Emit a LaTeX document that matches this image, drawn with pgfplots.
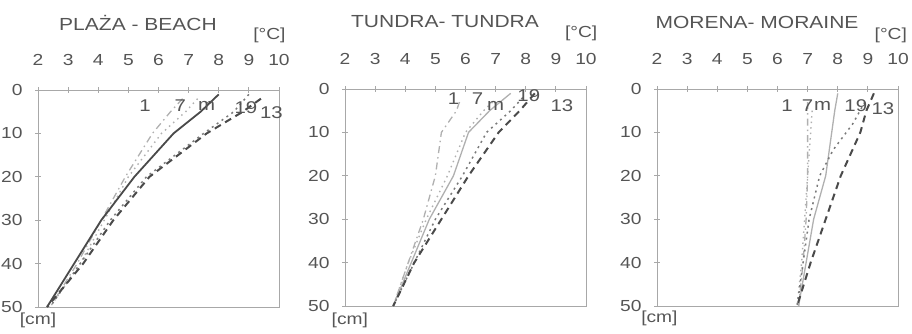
\documentclass[border=0pt]{standalone}
\usepackage{pgfplots}
\pgfplotsset{compat=1.18}
\usepackage{fontspec}
\setmainfont{Liberation Sans}[FakeStretch=1.2]
\definecolor{txt}{HTML}{555555}
\definecolor{ax}{HTML}{A8A8A8}
\definecolor{dk}{HTML}{4A4A4A}
\definecolor{md}{HTML}{7A7A7A}
\definecolor{lt}{HTML}{B0B0B0}
\tikzset{
  s1/.style={lt, line width=1.3pt, dash pattern=on 7pt off 4pt on 1.5pt off 4pt},
  s7/.style={lt, line width=1.4pt, dash pattern=on 1.5pt off 4pt},
  s19/.style={md, line width=1.5pt, dash pattern=on 2pt off 4pt},
  s13/.style={dk, line width=2pt, dash pattern=on 7pt off 5pt},
  lab/.style={font=\fontsize{17}{19}\selectfont, text=txt},
  unit/.style={font=\fontsize{16}{18}\selectfont, text=txt},
}
\pgfplotsset{
  panel/.style={
    scale only axis, width=241pt, height=217pt,
    xmin=2, xmax=10, ymin=0, ymax=50, y dir=reverse,
    xtick={2,3,...,10}, ytick={0,10,...,50},
    xtick pos=upper, xticklabel pos=upper, ytick pos=left,
    tick align=center, major tick length=6pt,
    axis line style={ax, line width=0.8pt},
    tick style={ax, line width=0.8pt},
    tick label style={font=\fontsize{16}{18}\selectfont, text=txt},
    xticklabel style={yshift=18pt},
    yticklabel style={xshift=-9pt},
    /pgf/number format/assume math mode=true,
    title style={at={(0.415,1)}, anchor=center, yshift=61pt, font=\fontsize{17.5}{20}\selectfont, text=txt},
    clip=false,
  },
}
\begin{document}
\begin{tikzpicture}
\path[use as bounding box] (0,0) rectangle (912pt,334pt);
% ---------------- Panel 1
\begin{axis}[panel, at={(38pt,27pt)}, anchor=south west, title={PLAŻA - BEACH}]
\addplot[s1] coordinates {(6.8,2) (6.4,5) (5.8,10) (4.9,20) (4.1,30) (3.3,40) (2.4,50)};
\addplot[s7] coordinates {(7.3,2) (6.9,5) (6.1,10) (5.0,20) (4.2,30) (3.4,40) (2.4,50)};
\addplot[s19] coordinates {(9.0,1) (8.5,5) (7.5,10) (5.6,20) (4.4,30) (3.4,40) (2.4,50)};
\addplot[s13] coordinates {(9.4,2) (8.8,5) (7.6,10) (5.7,20) (4.5,30) (3.5,40) (2.3,50)};
\addplot[dk, line width=1.8pt] coordinates {(8.0,1) (7.4,5) (6.5,10) (5.2,20) (4.1,30) (3.2,40) (2.3,50)};
\node[lab] at (axis cs:5.55,3.7) {1};
\node[lab] at (axis cs:6.72,3.7) {7};
\node[lab] at (axis cs:7.6,3.7) {m};
\node[lab] at (axis cs:8.9,4.1) {19};
\node[lab] at (axis cs:9.75,5.3) {13};
\node[unit] at (rel axis cs:0.96,1) [yshift=55pt] {[°C]};
\node[unit] at (rel axis cs:0,0) [yshift=-13pt] {[cm]};
\end{axis}
% ---------------- Panel 2
\begin{axis}[panel, at={(345pt,28pt)}, anchor=south west, title={TUNDRA- TUNDRA}]
\addplot[s1] coordinates {(5.8,3) (5.7,5) (5.2,10) (5.0,20) (4.6,30) (4.1,40) (3.6,50)};
\addplot[s7] coordinates {(6.9,3) (6.6,5) (6.0,10) (5.4,20) (4.7,30) (4.1,40) (3.6,50)};
\addplot[lt, line width=1.3pt] coordinates {(7.5,1) (6.8,5) (6.1,10) (5.6,20) (4.8,30) (4.2,40) (3.6,50)};
\addplot[s19] coordinates {(7.9,2) (7.5,5) (6.7,10) (5.9,20) (5.0,30) (4.3,40) (3.6,50)};
\addplot[s13] coordinates {(8.3,1) (7.8,5) (7.1,10) (6.1,20) (5.2,30) (4.3,40) (3.6,50)};
\node[lab] at (axis cs:5.6,2.3) {1};
\node[lab] at (axis cs:6.4,2.3) {7};
\node[lab] at (axis cs:7.0,3.9) {m};
\node[lab] at (axis cs:8.1,1.6) {19};
\node[lab] at (axis cs:9.2,3.9) {13};
\node[unit] at (rel axis cs:0.98,1) [yshift=56pt] {[°C]};
\node[unit] at (rel axis cs:0.02,0) [yshift=-14pt] {[cm]};
\end{axis}
% ---------------- Panel 3
\begin{axis}[panel, at={(657pt,28pt)}, anchor=south west, title={MORENA- MORAINE}]
\addplot[s1] coordinates {(7.0,3) (7.0,5) (7.0,10) (7.0,20) (6.95,30) (6.85,40) (6.7,50)};
\addplot[s7] coordinates {(7.15,5) (7.1,10) (7.0,20) (6.9,30) (6.8,40) (6.65,50)};
\addplot[lt, line width=1.3pt] coordinates {(8.0,1) (7.9,5) (7.8,10) (7.6,20) (7.2,30) (6.95,40) (6.7,50)};
\addplot[s19] coordinates {(8.9,3) (8.5,8) (7.85,14) (7.4,20) (7.05,30) (6.85,40) (6.65,50)};
\addplot[s13] coordinates {(9.2,1) (8.95,5) (8.75,10) (8.1,20) (7.6,30) (7.1,40) (6.65,50)};
\node[lab] at (axis cs:6.32,3.9) {1};
\node[lab] at (axis cs:7.0,3.9) {7};
\node[lab] at (axis cs:7.5,3.9) {m};
\node[lab] at (axis cs:8.6,3.9) {19};
\node[lab] at (axis cs:9.5,4.6) {13};
\node[unit] at (rel axis cs:0.97,1) [yshift=54pt] {[°C]};
\node[unit] at (rel axis cs:0.01,0) [yshift=-12pt] {[cm]};
\end{axis}
\end{tikzpicture}
\end{document}
